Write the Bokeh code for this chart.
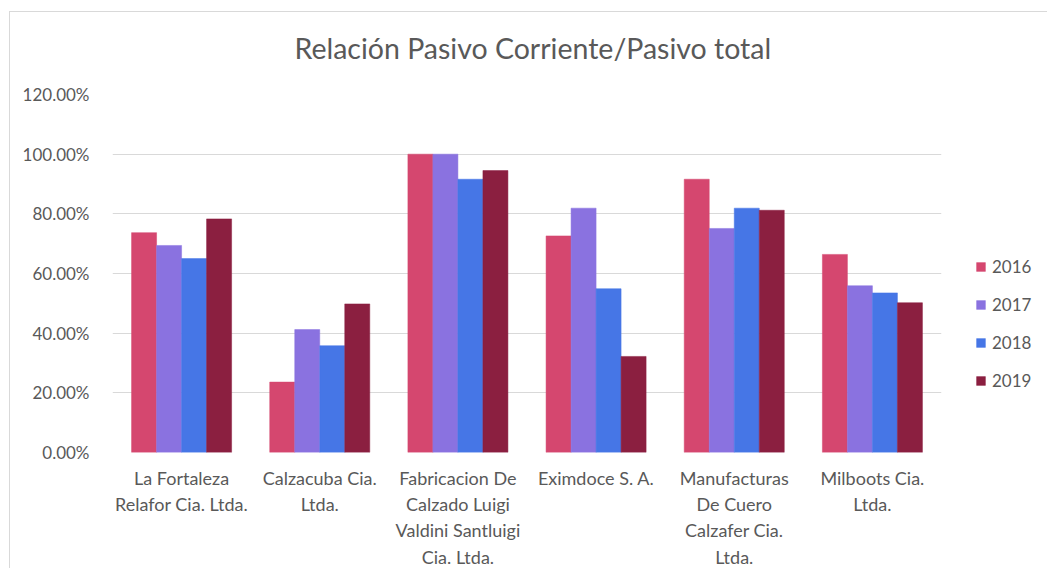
from bokeh.plotting import figure
from bokeh.models import (ColumnDataSource, FixedTicker, NumeralTickFormatter,
                          Range1d, Legend, LegendItem, Title)
from bokeh.embed import file_html
from bokeh.resources import INLINE

# ---- data ----
companies = [
    "La Fortaleza Relafor Cia. Ltda.",
    "Calzacuba Cia. Ltda.",
    "Fabricacion De Calzado Luigi Valdini Santluigi Cia. Ltda.",
    "Eximdoce S. A.",
    "Manufacturas De Cuero Calzafer Cia. Ltda.",
    "Milboots Cia. Ltda.",
]
tick_labels = [
    "La Fortaleza\nRelafor Cia. Ltda.",
    "Calzacuba Cia.\nLtda.",
    "Fabricacion De\nCalzado Luigi\nValdini Santluigi\nCia. Ltda.",
    "Eximdoce S. A.",
    "Manufacturas\nDe Cuero\nCalzafer Cia.\nLtda.",
    "Milboots Cia.\nLtda.",
]
years = ["2016", "2017", "2018", "2019"]
v2016 = [0.737, 0.236, 1.000, 0.726, 0.916, 0.664]
v2017 = [0.694, 0.412, 1.000, 0.819, 0.751, 0.559]
v2018 = [0.650, 0.358, 0.916, 0.549, 0.819, 0.535]
v2019 = [0.783, 0.498, 0.945, 0.322, 0.812, 0.502]
series = [v2016, v2017, v2018, v2019]
colors = ["#D5476F", "#8A72E0", "#4676E6", "#8B1F40"]
y_ticks = [0.0, 0.2, 0.4, 0.6, 0.8, 1.0, 1.2]
title_text = "Relación Pasivo Corriente/Pasivo total"

FONT = "Lato"
GREY = "#595959"

p = figure(
    output_backend="svg", toolbar_location=None,
    frame_width=829, frame_height=358,
    min_border_left=102, min_border_top=82, min_border_right=98, min_border_bottom=96,
    x_range=Range1d(0, len(companies)), y_range=Range1d(0, 1.2),
    styles={"border-left": "1px solid #d9d9d9", "border-top": "1px solid #d9d9d9",
            "margin-left": "9px", "margin-top": "11px"},
)
p.background_fill_color = "white"
p.border_fill_color = "white"
p.outline_line_color = None

# spacer between frame and title (closest to frame), then the title
spacer = Title(text=" ", text_font_size="1px", standoff=14)
main_title = Title(text=title_text, align="left", offset=182, standoff=26,
                   text_font=FONT, text_font_size="28.5px", text_font_style="normal",
                   text_color=GREY)
p.add_layout(spacer, "above")
p.add_layout(main_title, "above")

bw = 0.181
renderers = []
for k, (yr, vals, c) in enumerate(zip(years, series, colors)):
    xs = [i + 0.5 + (k - 1.5) * bw for i in range(len(companies))]
    src = ColumnDataSource(dict(x=xs, top=vals, company=companies))
    r = p.vbar(x="x", top="top", width=bw, bottom=0, source=src,
               fill_color=c, line_color=c, line_width=0.5)
    renderers.append(r)

# axes
p.xaxis.ticker = FixedTicker(ticks=[i + 0.5 for i in range(len(companies))])
p.xaxis.major_label_overrides = {i + 0.5: lab for i, lab in enumerate(tick_labels)}
p.yaxis.ticker = FixedTicker(ticks=y_ticks)
p.yaxis.formatter = NumeralTickFormatter(format="0.00%")
for ax in (p.xaxis, p.yaxis):
    ax.axis_line_color = None
    ax.major_tick_line_color = None
    ax.minor_tick_line_color = None
    ax.major_label_text_font = FONT
    ax.major_label_text_color = GREY
p.xaxis.major_label_text_font_size = "18px"
p.yaxis.major_label_text_font_size = "17px"
p.xaxis.major_label_standoff = 8
p.yaxis.major_label_standoff = 17

p.xgrid.grid_line_color = None
p.ygrid.grid_line_color = "#d9d9d9"
p.ygrid.grid_line_width = 1

legend = Legend(
    items=[LegendItem(label=yr, renderers=[r]) for yr, r in zip(years, renderers)],
    location=(34, 61), orientation="vertical",
    glyph_width=11, glyph_height=11, label_height=20, spacing=17,
    label_standoff=6, padding=0, margin=0,
    border_line_color=None, background_fill_alpha=0,
    label_text_font=FONT, label_text_font_size="17px", label_text_color=GREY,
)
p.add_layout(legend, "right")

with open("out.html", "w") as f:
    f.write(file_html(p, INLINE))
